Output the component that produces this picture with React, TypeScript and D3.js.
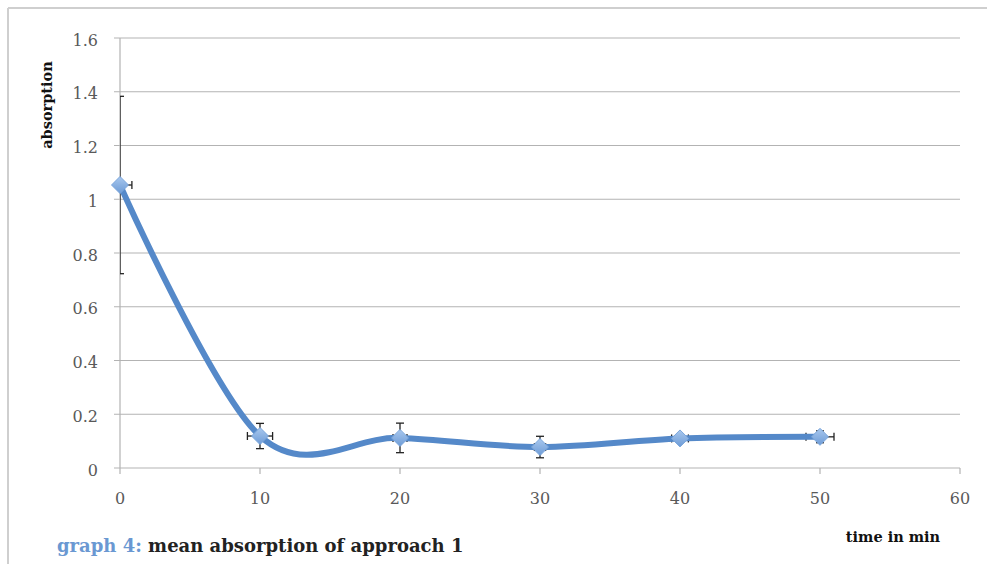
import React from "react";
import * as d3 from "d3";

const times = [0, 10, 20, 30, 40, 50];
const absorption = [1.053, 0.119, 0.112, 0.078, 0.11, 0.116];
const yErr = [0.33, 0.047, 0.055, 0.04, 0.012, 0.022];
const xErr = [0.85, 0.9, 0.5, 0.4, 0.6, 1.0];
const xTicks = [0, 10, 20, 30, 40, 50, 60];
const yTicks = [0, 0.2, 0.4, 0.6, 0.8, 1, 1.2, 1.4, 1.6];

const W = 987;
const H = 564;
const left = 120, right = 960, top = 38, bottom = 468;

export default function App() {
  const x = d3.scaleLinear().domain([0, 60]).range([left, right]);
  const y = d3.scaleLinear().domain([0, 1.6]).range([bottom, top]);
  const pts = times.map((t, i) => ({ t, v: absorption[i], ey: yErr[i], ex: xErr[i] }));
  const line = d3
    .line<{ t: number; v: number }>()
    .x((d) => x(d.t))
    .y((d) => y(d.v))
    .curve(d3.curveCardinal.tension(0));
  const serif = "'DejaVu Serif', 'Liberation Serif', serif";
  const tickColor = "#595959";
  const grid = "#b3b3b3";
  const cap = 4;
  return (
    <div style={{ position: "absolute", left: 0, top: 0 }}>
      <svg width={W} height={H} style={{ display: "block", background: "#fff" }}>
        <defs>
          <clipPath id="plotclip">
            <rect x={left} y={0} width={right - left + 20} height={bottom + 10} />
          </clipPath>
          <linearGradient id="mk" x1="0" y1="0" x2="0" y2="1">
            <stop offset="0%" stopColor="#a9c8ee" />
            <stop offset="100%" stopColor="#6d9bd6" />
          </linearGradient>
        </defs>
        {/* frame */}
        <line x1={8} y1={8} x2={W} y2={8} stroke="#cfcfcf" strokeWidth={2} />
        <line x1={8} y1={8} x2={8} y2={H} stroke="#cfcfcf" strokeWidth={2} />
        {/* gridlines */}
        {yTicks.map((t) => (
          <line key={"g" + t} x1={left - 6} x2={right} y1={y(t)} y2={y(t)} stroke={grid} strokeWidth={1.2} />
        ))}
        {/* y axis */}
        <line x1={left} x2={left} y1={top} y2={bottom} stroke={grid} strokeWidth={1.2} />
        {/* x ticks */}
        {xTicks.map((t) => (
          <line key={"xt" + t} x1={x(t)} x2={x(t)} y1={bottom} y2={bottom + 6} stroke={grid} strokeWidth={1.2} />
        ))}
        {yTicks.map((t) => (
          <text key={"yl" + t} x={98} y={y(t) + 2} dy="0.35em" textAnchor="end" fontFamily={serif} fontSize={16} fill={tickColor}>
            {d3.format("~g")(t)}
          </text>
        ))}
        {xTicks.map((t) => (
          <text key={"xl" + t} x={x(t)} y={504} textAnchor="middle" fontFamily={serif} fontSize={16} fill={tickColor}>
            {t}
          </text>
        ))}
        {/* error bars */}
        <g clipPath="url(#plotclip)" stroke="#222" strokeWidth={1.3}>
          {pts.map((p, i) => (
            <g key={"e" + i}>
              <line x1={x(p.t)} x2={x(p.t)} y1={y(p.v + p.ey)} y2={y(p.v - p.ey)} />
              <line x1={x(p.t) - cap} x2={x(p.t) + cap} y1={y(p.v + p.ey)} y2={y(p.v + p.ey)} />
              <line x1={x(p.t) - cap} x2={x(p.t) + cap} y1={y(p.v - p.ey)} y2={y(p.v - p.ey)} />
              <line x1={x(p.t - p.ex)} x2={x(p.t + p.ex)} y1={y(p.v)} y2={y(p.v)} />
              <line x1={x(p.t - p.ex)} x2={x(p.t - p.ex)} y1={y(p.v) - cap} y2={y(p.v) + cap} />
              <line x1={x(p.t + p.ex)} x2={x(p.t + p.ex)} y1={y(p.v) - cap} y2={y(p.v) + cap} />
            </g>
          ))}
        </g>
        {/* line */}
        <path d={line(pts) || ""} fill="none" stroke="#5589c9" strokeWidth={6} strokeLinecap="round" strokeLinejoin="round" />
        {/* markers */}
        {pts.map((p, i) => {
          const cx = x(p.t), cy = y(p.v), r = 8.5;
          return (
            <path
              key={"m" + i}
              d={`M${cx},${cy - r}L${cx + r},${cy}L${cx},${cy + r}L${cx - r},${cy}Z`}
              fill="url(#mk)"
              stroke="#7aa6dc"
              strokeWidth={1}
            />
          );
        })}
        {/* axis titles */}
        <text transform={`translate(52,105) rotate(-90)`} textAnchor="middle" fontFamily={serif} fontWeight="bold" fontSize={14.5} fill="#111">
          absorption
        </text>
        <text x={893} y={542} textAnchor="middle" fontFamily={serif} fontWeight="bold" fontSize={14.5} fill="#111">
          time in min
        </text>
        <text x={57} y={552} fontFamily={serif} fontWeight="bold" fontSize={18} fill="#222">
          <tspan fill="#6a98d2">graph 4: </tspan>
          <tspan>mean absorption of approach 1</tspan>
        </text>
      </svg>
    </div>
  );
}
